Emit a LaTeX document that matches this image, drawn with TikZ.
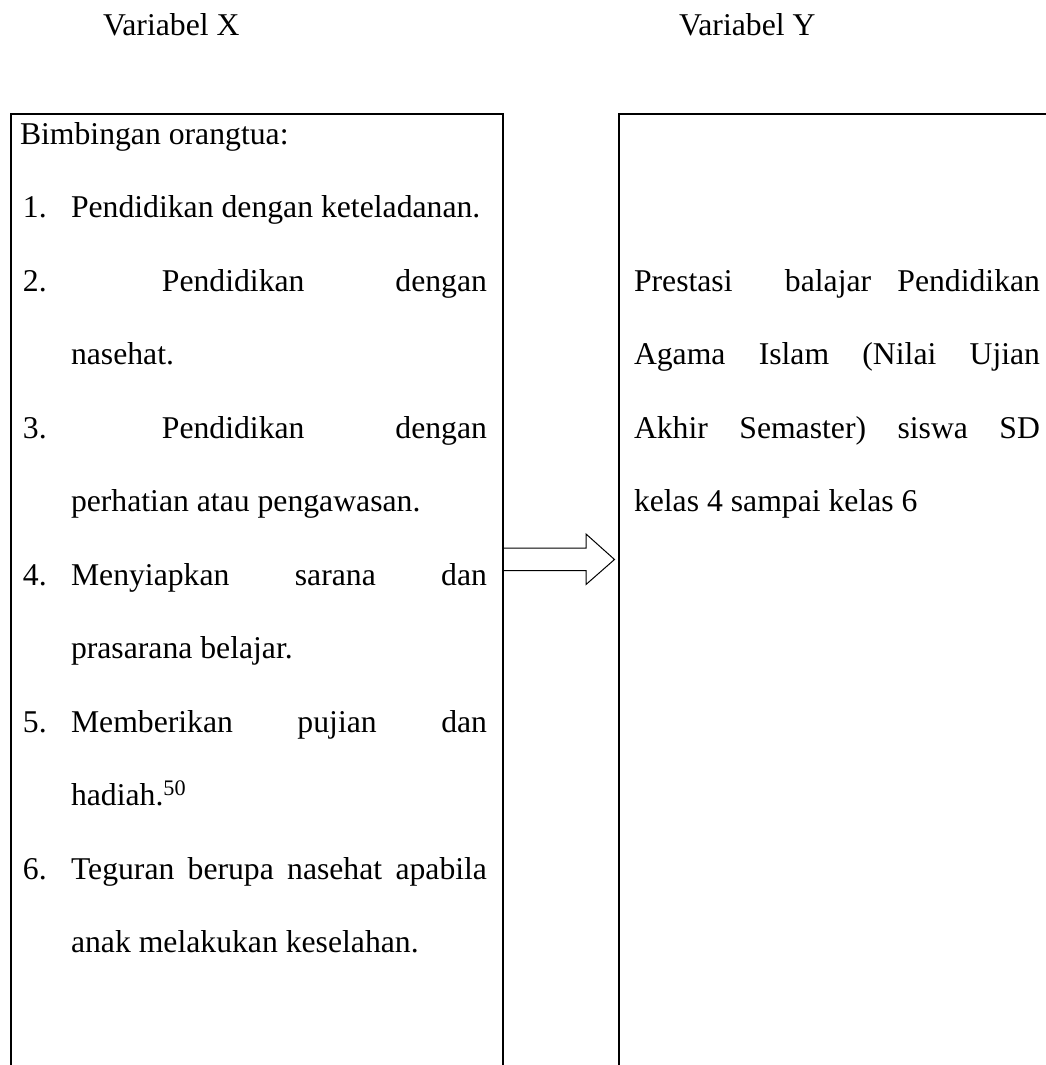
\documentclass[tikz,border=0pt]{standalone}
\usepackage{fontspec}
\setmainfont{Liberation Serif}
\hbadness=10000
\begin{document}
\begin{tikzpicture}[x=1pt,y=-1pt,
  txt/.style={anchor=base west,inner sep=0pt,outer sep=0pt,font=\fontsize{31.7pt}{38pt}\selectfont},
  boxline/.style={line width=2pt},
  blockarrow/.style={line width=1pt,line join=miter}]
\useasboundingbox (0,0) rectangle (1045,1065);
% boxes (open at the bottom, right box runs past the right edge)
\draw[boxline] (11,1070) -- (11,114) -- (503,114) -- (503,1070);
\draw[boxline] (619,1070) -- (619,114) -- (1050,114);
% block arrow from left box to right box
\coordinate (aL) at (503,559.5);
\coordinate (aR) at (614.5,559.5);
\draw[blockarrow] (aL) ++(0,-11.5) -- ++(83,0) -- ++(0,-14) -- (aR)
  -- ++(-28.5,25) -- ++(0,-14) -- ++(-83,0);
% headings
\node[txt] (vx) at (103,36) {Variabel X};
\node[txt] (vy) at (679,36) {Variabel Y};
% left box
\node[txt] (b0) at (20,144) {Bimbingan orangtua:};
\node[txt] (n1) at (23,217.5) {1.};
\node[txt] (t1) at (71,217.5) {Pendidikan dengan keteladanan.};
\node[txt] (n2) at (23,291) {2.};
\node[txt] (t2) at (71,291) {\makebox[416pt][s]{\ Pendidikan dengan}};
\node[txt] (t2b) at (71,364) {nasehat.};
\node[txt] (n3) at (23,438) {3.};
\node[txt] (t3) at (71,438) {\makebox[416pt][s]{\ Pendidikan dengan}};
\node[txt] (t3b) at (71,511) {perhatian atau pengawasan.};
\node[txt] (n4) at (23,585) {4.};
\node[txt] (t4) at (71,585) {\makebox[416pt][s]{Menyiapkan sarana dan}};
\node[txt] (t4b) at (71,658) {prasarana belajar.};
\node[txt] (n5) at (23,732) {5.};
\node[txt] (t5) at (71,732) {\makebox[416pt][s]{Memberikan pujian dan}};
\node[txt] (t5b) at (71,805) {hadiah.\textsuperscript{50}};
\node[txt] (n6) at (23,879) {6.};
\node[txt] (t6) at (71,879) {\makebox[416pt][s]{Teguran berupa nasehat apabila}};
\node[txt] (t6b) at (71,952) {anak melakukan keselahan.};
% right box
\node[txt] (r1) at (634,291) {\makebox[406pt][s]{Prestasi\ \ balajar Pendidikan}};
\node[txt] (r2) at (634,364) {\makebox[406pt][s]{Agama Islam (Nilai Ujian}};
\node[txt] (r3) at (634,438) {\makebox[406pt][s]{Akhir Semaster) siswa SD}};
\node[txt] (r4) at (634,511) {kelas 4 sampai kelas 6};
\end{tikzpicture}
\end{document}
